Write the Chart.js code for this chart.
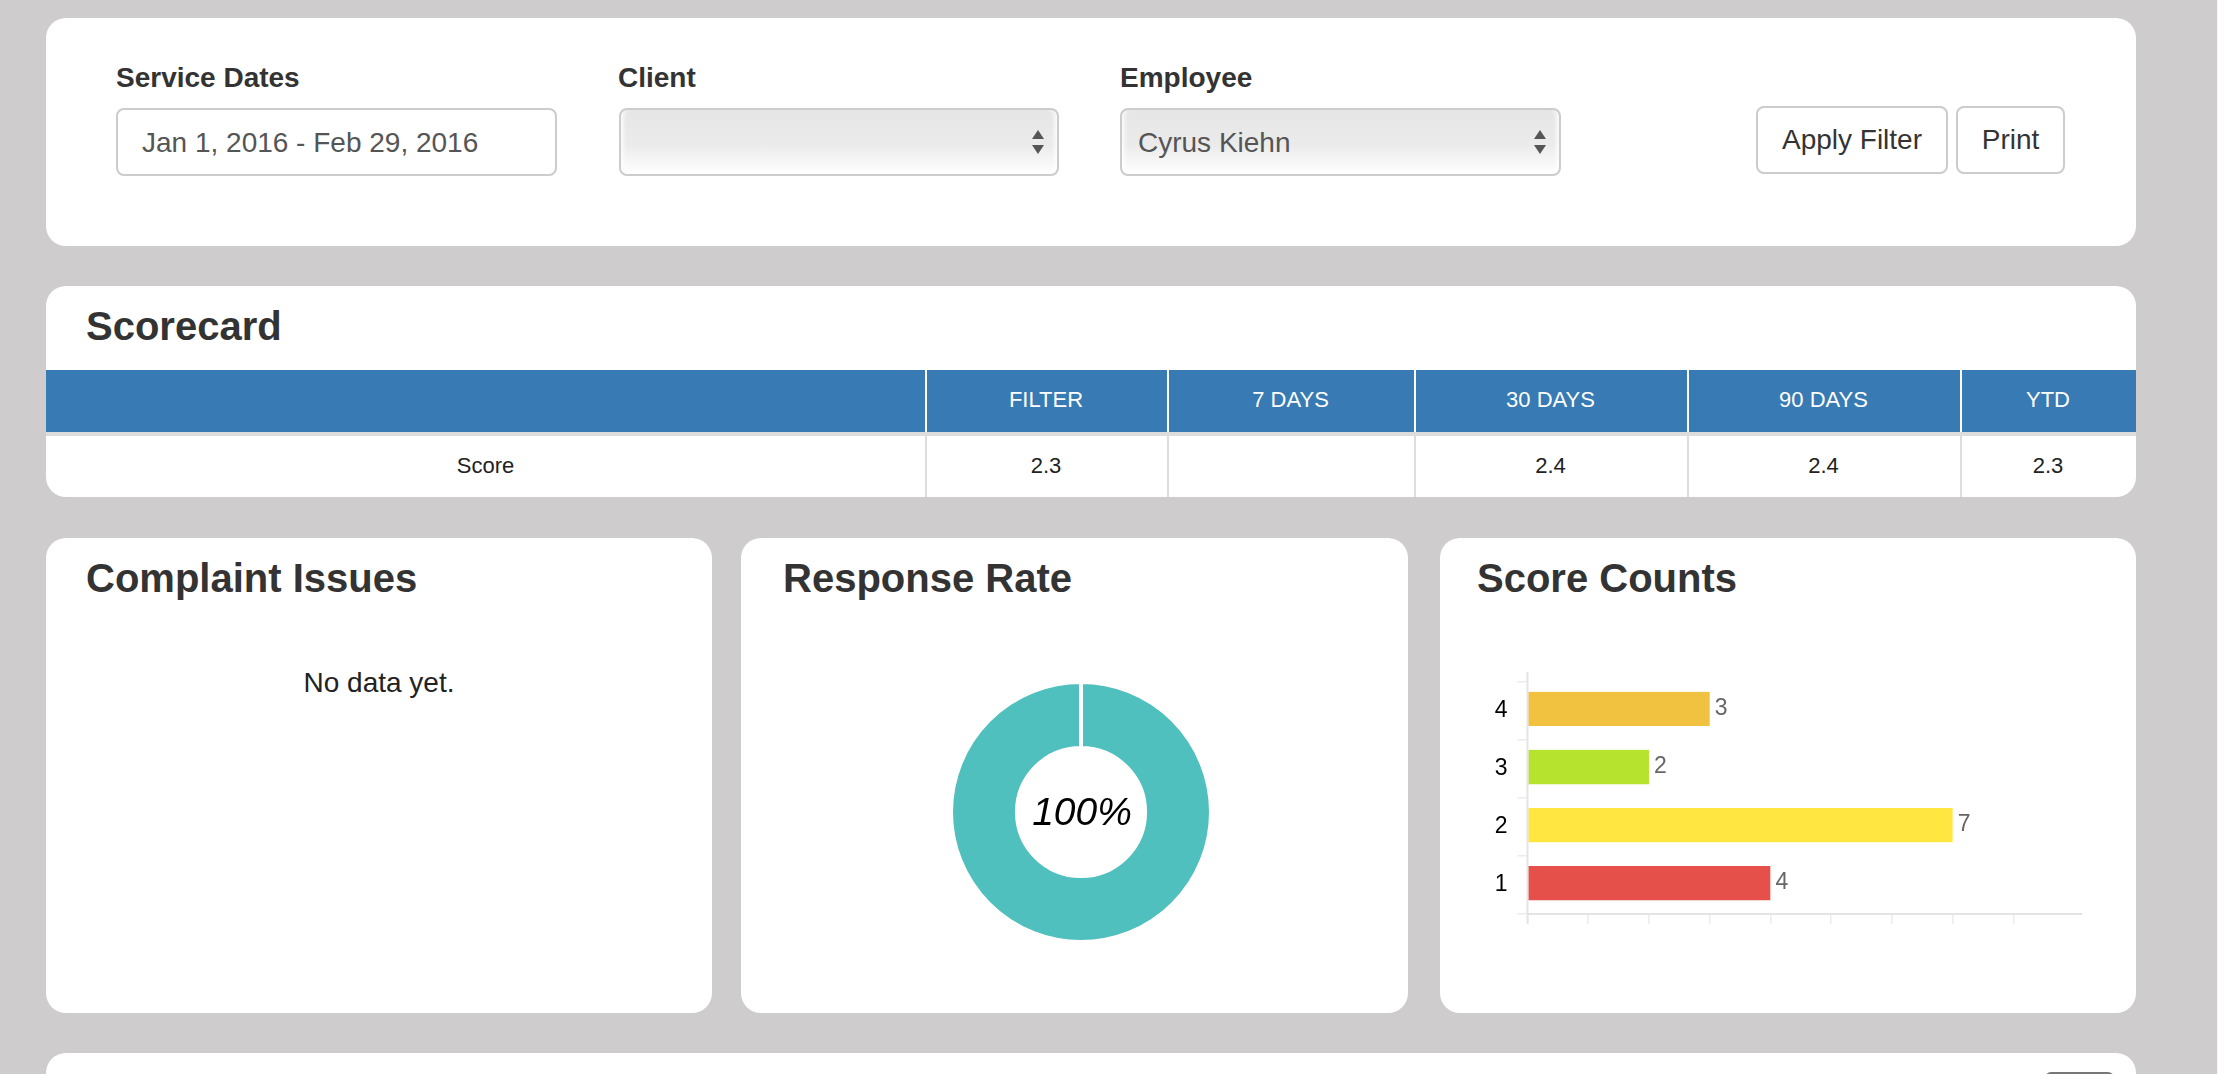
<!DOCTYPE html>
<html>
<head>
<meta charset="utf-8">
<title>Scorecard dashboard</title>
<script src="https://cdn.jsdelivr.net/npm/chart.js@4/dist/chart.umd.min.js"></script>
<style>
html,body{margin:0;padding:0;width:2218px;height:1074px;overflow:hidden;background:#cecccd;font-family:"Liberation Sans",Arial,sans-serif;color:#333}
.a{position:absolute;white-space:nowrap}
.panel{position:absolute;background:#fff;border-radius:20px}
.lbl{font-size:28px;font-weight:bold;line-height:32px;color:#333}
.ttl{font-size:40px;font-weight:bold;line-height:46px;color:#333}
.field{position:absolute;box-sizing:border-box;border:2px solid #ccc;border-radius:8px;font-size:28px;line-height:32px;color:#555}
.sel{background:linear-gradient(#e6e6e6 0%,#ebebeb 55%,#fff 100%);box-shadow:inset 7px 0 5px -5px #fff,inset -7px 0 5px -5px #fff}
.up,.dn{position:absolute;width:0;height:0;border-left:6px solid transparent;border-right:6px solid transparent}
.up{border-bottom:9px solid #555}.dn{border-top:9px solid #555}
.btn{position:absolute;box-sizing:border-box;border:2px solid #ccc;border-radius:8px;background:#fff;font-size:28px;color:#333;text-align:center}
.cell{position:absolute;text-align:center;font-size:22px;line-height:26px}
.sep{position:absolute;width:2px}
canvas{position:absolute;display:block}
</style>
</head>
<body>
<div class="panel" style="left:46px;top:18px;width:2090px;height:228px"></div>
<div class="a lbl" style="left:116px;top:62px">Service Dates</div>
<div class="a lbl" style="left:618px;top:62px">Client</div>
<div class="a lbl" style="left:1120px;top:62px">Employee</div>
<div class="field" style="left:116px;top:108px;width:441px;height:68px"><span class="a" style="left:24px;top:17px">Jan 1, 2016 - Feb 29, 2016</span></div>
<div class="field sel" style="left:619px;top:108px;width:440px;height:68px"></div>
<div class="up" style="left:1032px;top:130px"></div><div class="dn" style="left:1032px;top:145px"></div>
<div class="field sel" style="left:1120px;top:108px;width:441px;height:68px"><span class="a" style="left:16px;top:17px">Cyrus Kiehn</span></div>
<div class="up" style="left:1534px;top:130px"></div><div class="dn" style="left:1534px;top:145px"></div>
<div class="btn" style="left:1756px;top:106px;width:192px;height:68px;line-height:64px">Apply Filter</div>
<div class="btn" style="left:1956px;top:106px;width:109px;height:68px;line-height:64px">Print</div>

<div class="panel" id="scorePanel" style="left:46px;top:286px;width:2090px;height:211px;overflow:hidden"></div>
<div class="a ttl" style="left:86px;top:303px">Scorecard</div>

<div class="panel" style="left:46px;top:538px;width:666px;height:475px"></div>
<div class="panel" style="left:741px;top:538px;width:667px;height:475px"></div>
<div class="panel" style="left:1440px;top:538px;width:696px;height:475px"></div>
<div class="panel" style="left:46px;top:1053px;width:2090px;height:60px"></div>
<div class="a" style="left:2045px;top:1072px;width:69px;height:20px;background:#777;border-radius:6px"></div>
<div class="a" style="left:2217px;top:0;width:1px;height:1074px;background:#f4f4f4"></div>

<div class="a ttl" style="left:86px;top:555px">Complaint Issues</div>
<div class="a ttl" style="left:783px;top:555px">Response Rate</div>
<div class="a ttl" style="left:1477px;top:555px">Score Counts</div>
<div class="a" style="left:46px;width:666px;top:667px;text-align:center;font-size:28px;line-height:32px;color:#222">No data yet.</div>

<canvas id="donut" style="left:941px;top:672px" width="280" height="280"></canvas>
<div class="a" style="left:981px;width:202px;top:789px;text-align:center;font-size:39px;line-height:46px;font-style:italic;color:#000">100%</div>
<canvas id="bars" style="left:1440px;top:650px" width="642" height="300"></canvas>

<script>
const tableHeaders = ["", "FILTER", "7 DAYS", "30 DAYS", "90 DAYS", "YTD"];
const tableRow = ["Score", "2.3", "", "2.4", "2.4", "2.3"];
const columnEdges = [46, 925, 1167, 1414, 1687, 1960, 2136];

const responseLabels = ["Responded"];
const responseValues = [100];
const responseColors = ["#4fc0bd"];

const scoreLabels = ["4", "3", "2", "1"];
const scoreValues = [3, 2, 7, 4];
const scoreColors = ["#f0c240", "#b6e42e", "#ffe640", "#e5504a"];
const scoreTicks = [0, 1, 2, 3, 4, 5, 6, 7, 8];

// Scorecard table
const host = document.body;
function el(css, cls, text){
  const d = document.createElement('div');
  d.className = cls; d.style.cssText = css; if (text) d.textContent = text;
  host.appendChild(d); return d;
}
const panel = document.getElementById('scorePanel');
const head = document.createElement('div');
head.style.cssText = 'position:absolute;left:0;top:84px;width:100%;height:62px;background:#377ab4';
panel.appendChild(head);
const rule = document.createElement('div');
rule.style.cssText = 'position:absolute;left:0;top:146px;width:100%;height:4px;background:#ddd';
panel.appendChild(rule);
tableHeaders.forEach((h, i) => {
  const l = columnEdges[i], w = columnEdges[i + 1] - l;
  el(`left:${l}px;width:${w}px;top:387px;color:#fff`, 'cell', h);
  el(`left:${l}px;width:${w}px;top:453px;color:#222`, 'cell', tableRow[i]);
  if (i > 0) {
    el(`left:${l}px;top:370px;height:62px;background:#fff`, 'sep');
    el(`left:${l}px;top:436px;height:61px;background:#ddd`, 'sep');
  }
});

Chart.defaults.animation = false;
Chart.defaults.font.family = '"Liberation Sans", Arial, sans-serif';

new Chart(document.getElementById('donut'), {
  type: 'doughnut',
  data: { labels: responseLabels, datasets: [{
    data: responseValues, backgroundColor: responseColors,
    borderColor: '#fff', borderWidth: 4, radius: 130, cutout: 68
  }]},
  options: { responsive: false, plugins: { legend: { display: false }, tooltip: { enabled: false } } }
});

const barExtras = {
  id: 'barExtras',
  afterDatasetsDraw(chart) {
    const { ctx, scales: { x, y } } = chart;
    const meta = chart.getDatasetMeta(0);
    ctx.save();
    ctx.font = '23px "Liberation Sans", Arial, sans-serif';
    ctx.fillStyle = '#666';
    ctx.textBaseline = 'middle';
    meta.data.forEach((bar, i) => {
      ctx.fillText(String(scoreValues[i]), bar.x + 5, bar.y - 2);
    });
    // the vertical axis rises a little above the plot area
    ctx.strokeStyle = '#e4e4e4';
    ctx.lineWidth = 2;
    ctx.beginPath();
    ctx.moveTo(x.left, y.top - 10);
    ctx.lineTo(x.left, y.bottom + 10);
    ctx.stroke();
    ctx.restore();
  }
};

new Chart(document.getElementById('bars'), {
  type: 'bar',
  data: { labels: scoreLabels, datasets: [{
    data: scoreValues, backgroundColor: scoreColors,
    barThickness: 38, borderColor: 'transparent',
    borderWidth: { top: 0, right: 0, left: 0, bottom: 4 }
  }]},
  options: {
    indexAxis: 'y', responsive: false,
    layout: { padding: { top: 31.7, left: 0, right: 0, bottom: 0 } },
    plugins: { legend: { display: false }, tooltip: { enabled: false } },
    scales: {
      x: {
        min: 0, max: 9.13, beginAtZero: true,
        afterBuildTicks(s) { s.ticks = scoreTicks.map(value => ({ value })); },
        afterFit(s) { s.height = 36; },
        ticks: { display: false },
        grid: { drawOnChartArea: false, color: '#ececec', tickLength: 10, lineWidth: 1.5 },
        border: { color: '#e4e4e4', width: 2 }
      },
      y: {
        afterFit(s) { s.width = 87.5; },
        ticks: { color: '#000', font: { size: 23 }, padding: 10 },
        grid: { drawOnChartArea: false, color: '#ececec', tickLength: 10, lineWidth: 1.5, offset: true },
        border: { display: false }
      }
    }
  },
  plugins: [barExtras]
});
</script>
</body>
</html>
